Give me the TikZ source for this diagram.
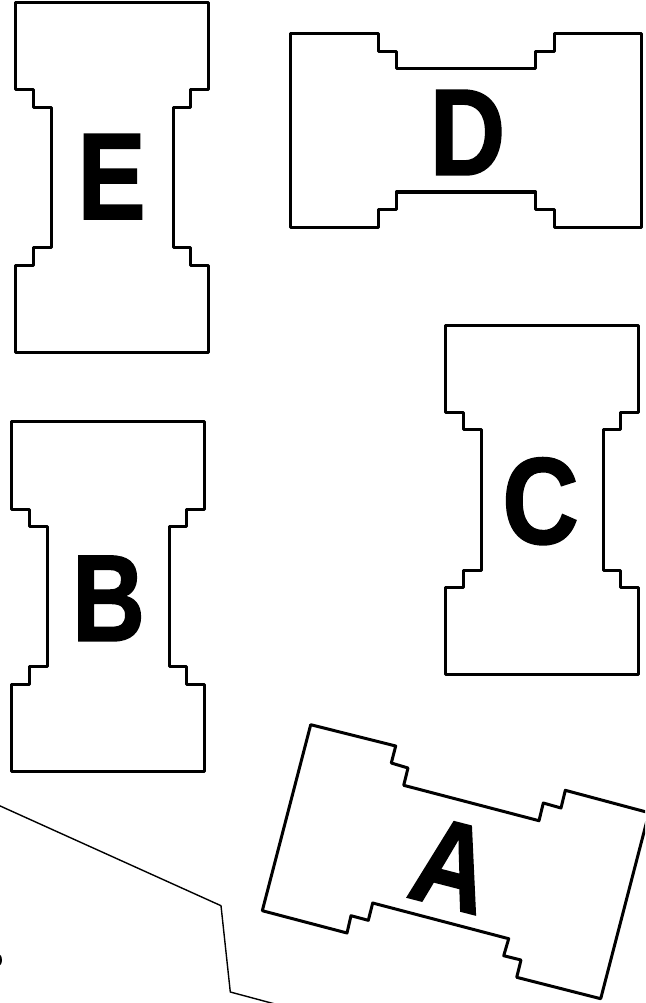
\documentclass[tikz,border=0pt]{standalone}
\usepackage{fontspec}
\setmainfont{Liberation Sans}
\newfontfamily\letterfont[BoldFeatures={FakeBold=1.5}]{Liberation Sans}
\tikzset{
  outline/.style={draw=black,line width=3pt,line join=round,line cap=round},
  thin line/.style={draw=black,line width=1.4pt,line join=round},
  letter/.style={inner sep=0pt,font=\fontsize{123}{123}\letterfont\bfseries},
}
\newcommand{\narrowtext}[2]{\scalebox{#1}[1]{#2}}
\newcommand{\barshape}[2]{%
  \draw[outline,shift={(#1,#2)}] (15.7,2.7)--(208,2.7)--(208,90)--(190.7,90)--(190.7,107.3)--(173,107.3)--(173,247.7)--(190.7,247.7)--(190.7,265.3)--(208,265.3)--(208,352.3)--(15.7,352.3)--(15.7,265.3)--(33,265.3)--(33,247.7)--(51,247.7)--(51,107.3)--(33,107.3)--(33,90)--(15.7,90)--cycle;}
\begin{document}
\begin{tikzpicture}[x=1pt,y=-1pt]
\useasboundingbox (0,0) rectangle (645,1003);
\clip (0,0) rectangle (645,1003);
\barshape{0}{0}
\barshape{-4}{419}
\barshape{430}{322.3}
\draw[outline] (290.7,34)--(378.3,34)--(378.3,51.3)--(396.3,51.3)--(396.3,69)--(535.7,69)--(535.7,51.3)--(554,51.3)--(554,34)--(641,34)--(641,227.3)--(554,227.3)--(554,209.3)--(535.7,209.3)--(535.7,192)--(396.3,192)--(396.3,209.3)--(378.3,209.3)--(378.3,227.3)--(290.7,227.3)--cycle;
\draw[outline] (310.7,724.7)--(395.7,746)--(391.3,763)--(408,768)--(403.7,785.3)--(539,820.7)--(543.3,803)--(561,808)--(565.3,790.3)--(649,812.7)--(600.7,998.7)--(516.7,977.3)--(521,960)--(503.7,955.7)--(508.7,938.7)--(372.7,903)--(368.3,920.3)--(351,915.7)--(347,933)--(262.3,910.7)--cycle;
\draw[thin line] (-2,805)--(221,905.7)--(230.3,992)--(290,1008);
\draw[outline] (-1.5,964.5) arc (90:-90:2 and 4.5);
\node[letter] (e) at (111.5,176.7) {\narrowtext{0.83}{E}};
\node[letter] (b) at (108.5,598.4) {\narrowtext{0.82}{B}};
\node[letter] (c) at (540.5,501.2) {\narrowtext{0.86}{C}};
\node[letter] (d) at (467.5,132.5) {\narrowtext{0.85}{D}};
\node[letter,rotate=-14.5] (a) at (452,865) {\narrowtext{0.85}{A}};
\end{tikzpicture}
\end{document}
